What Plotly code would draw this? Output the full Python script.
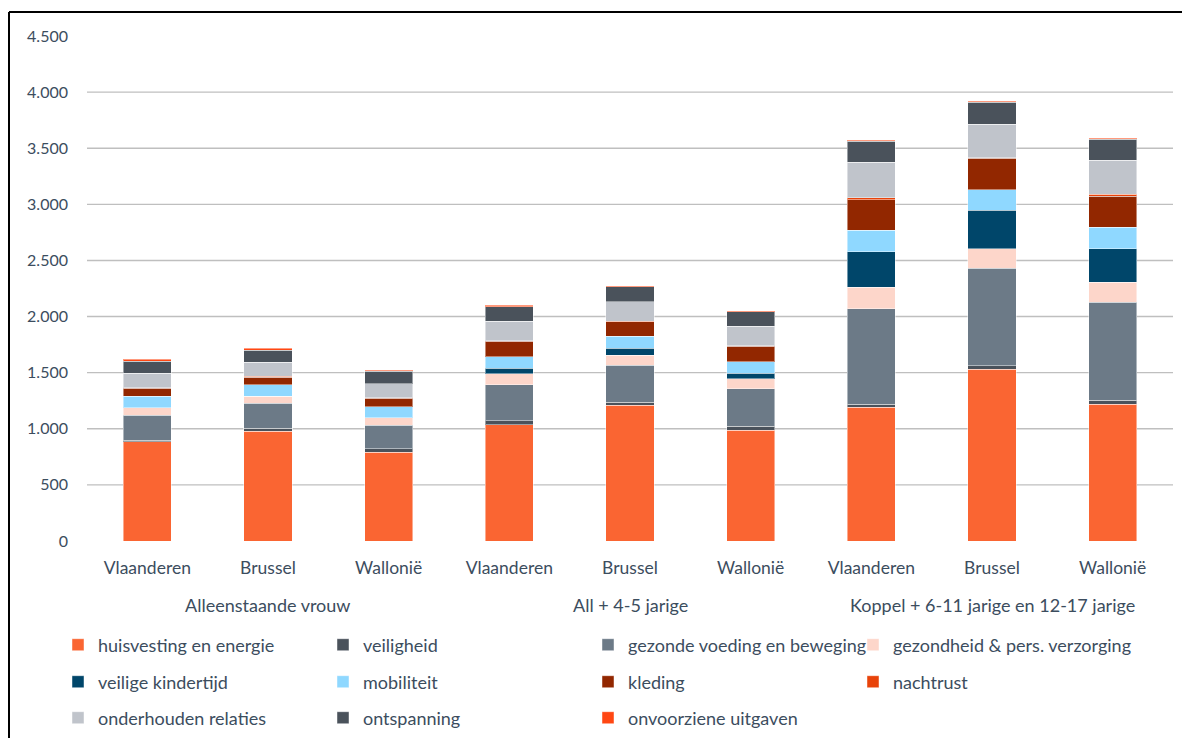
import plotly.graph_objects as go

regions = ["Vlaanderen", "Brussel", "Wallonië"] * 3
groups = ["Alleenstaande vrouw", "All + 4-5 jarige", "Koppel + 6-11 jarige en 12-17 jarige"]

series_names = [
    "huisvesting en energie", "veiligheid", "gezonde voeding en beweging",
    "gezondheid & pers. verzorging", "veilige kindertijd", "mobiliteit",
    "kleding", "nachtrust", "onderhouden relaties", "ontspanning",
    "onvoorziene uitgaven",
]

huisvesting = [885, 980, 793, 1036, 1209, 986, 1191, 1532, 1220]
veiligheid = [13, 24, 27, 36, 29, 38, 29, 30, 36]
gezonde_voeding = [224, 223, 210, 321, 330, 333, 850, 867, 870]
gezondheid = [66, 65, 69, 97, 89, 89, 193, 176, 181]
kindertijd = [0, 0, 0, 51, 60, 48, 314, 341, 297]
mobiliteit = [101, 101, 98, 101, 109, 103, 194, 184, 193]
kleding = [71, 68, 74, 137, 128, 137, 270, 282, 276]
nachtrust = [6, 9, 6, 6, 6, 6, 18, 3, 15]
relaties = [128, 125, 124, 172, 172, 173, 314, 300, 303]
ontspanning = [110, 104, 113, 130, 134, 130, 188, 196, 188]
onvoorzien = [15, 18, 9, 13, 9, 9, 11, 9, 11]

series_values = [huisvesting, veiligheid, gezonde_voeding, gezondheid, kindertijd,
                 mobiliteit, kleding, nachtrust, relaties, ontspanning, onvoorzien]

colors = ["#FA6532", "#4A525B", "#6C7A87", "#FDD6CA", "#00466A", "#8FD8FF",
          "#922700", "#E8430A", "#C0C4CB", "#4A525B", "#FF4713"]

y_ticks = [0, 500, 1000, 1500, 2000, 2500, 3000, 3500, 4000, 4500]
grid_vals = [500, 1000, 1500, 2000, 2500, 3000, 3500, 4000]

TEXT = "#3C4D5E"
FONT = "Lato"

W, H = 1182, 738
ML, MR, MT, MB = 87, 9, 36, 197
PW, PH = W - ML - MR, H - MT - MB

def px_x(p):
    return (p - ML) / PW

def px_y(p):
    return (H - MB - p) / PH

x_idx = list(range(len(regions)))

# legend grid: 4 columns x 3 rows, one small legend per entry
COLS = 4
STEP = 265
LX0 = 58
ROW_Y = [645, 682, 718]
legend_ids = ["legend" if i == 0 else "legend%d" % (i + 1) for i in range(len(series_names))]

fig = go.Figure()
for i, (name, vals, col) in enumerate(zip(series_names, series_values, colors)):
    fig.add_trace(go.Bar(
        x=x_idx, y=vals, name=name,
        marker=dict(color=col, line=dict(color="rgba(255,255,255,0.45)", width=1)),
        width=0.4,
        legend=legend_ids[i],
    ))

for g_i, g in enumerate(groups):
    members = x_idx[g_i * 3:(g_i + 1) * 3]
    fig.add_annotation(
        x=sum(members) / len(members), y=px_y(605), xref="x", yref="paper",
        text=g, showarrow=False, font=dict(family=FONT, size=18, color=TEXT),
        yanchor="middle",
    )

for gv in grid_vals:
    fig.add_shape(type="line", xref="paper", yref="y", x0=0, x1=1, y0=gv, y1=gv,
                  line=dict(color="#BFBFBF", width=1.4), layer="below")

# border (left and top)
fig.add_shape(type="line", xref="paper", yref="paper",
              x0=px_x(9), x1=px_x(9), y0=px_y(H + 5), y1=px_y(12),
              line=dict(color="black", width=2))
fig.add_shape(type="line", xref="paper", yref="paper",
              x0=px_x(9), x1=px_x(W + 5), y0=px_y(12), y1=px_y(12),
              line=dict(color="black", width=2))

legend_common = dict(
    orientation="h", xanchor="left", yanchor="middle",
    font=dict(family=FONT, size=18, color=TEXT),
    itemwidth=30, bgcolor="rgba(0,0,0,0)",
)
legend_layout = {}
for i, lid in enumerate(legend_ids):
    r, c = divmod(i, COLS)
    legend_layout[lid] = dict(x=px_x(LX0 + STEP * c), y=px_y(ROW_Y[r]), **legend_common)
fig.update_layout(**legend_layout)

fig.update_layout(
    width=W, height=H,
    margin=dict(l=ML, r=MR, t=MT, b=MB, autoexpand=False),
    barmode="stack",
    bargap=0.6,
    plot_bgcolor="white", paper_bgcolor="white",
    separators=",.",
    showlegend=True,
    font=dict(family=FONT, size=16, color=TEXT),
    xaxis=dict(
        tickmode="array", tickvals=x_idx, ticktext=regions,
        range=[-0.5, len(regions) - 0.5], showgrid=False, zeroline=False,
        showline=False, ticks="", ticklabelstandoff=14, automargin=False,
        tickfont=dict(family=FONT, size=17.5, color=TEXT),
    ),
    yaxis=dict(
        range=[0, 4500], tickmode="array", tickvals=y_ticks,
        tickformat=",d", showgrid=False, zeroline=False, showline=False,
        ticks="", ticklabelstandoff=18, automargin=False,
        tickfont=dict(family=FONT, size=16, color=TEXT),
    ),
)

fig.write_html("out.html", config={"displayModeBar": False},
               post_script="document.body.style.margin='0';document.body.style.overflow='hidden';")
